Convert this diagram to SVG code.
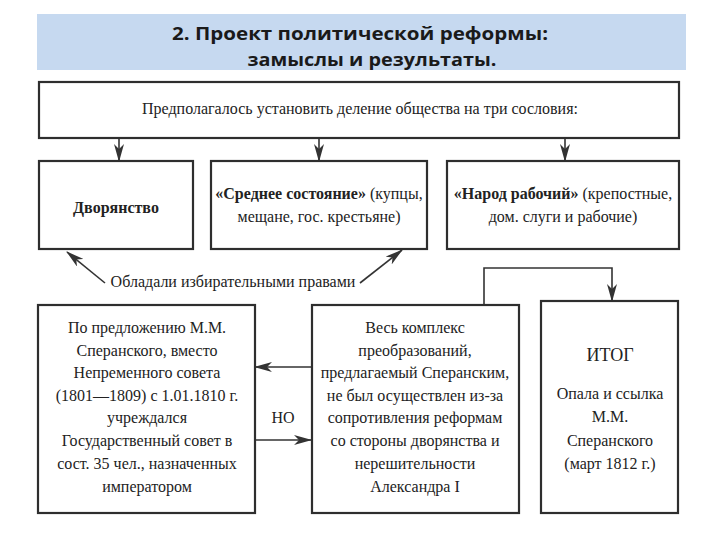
<svg xmlns="http://www.w3.org/2000/svg" width="720" height="540" viewBox="0 0 720 540">
<style>
.box{fill:#ffffff;stroke:#2e2e2e;stroke-width:2.2}
.t{font-family:"Liberation Serif","Times New Roman",serif;font-size:16px;fill:#222222;text-anchor:middle}
.b{font-weight:bold}
.ttl{font-family:"Open Sans","Noto Sans",sans-serif;font-weight:bold;font-size:18px;fill:#1a1a1a;text-anchor:middle}
.ln{fill:none;stroke:#333333;stroke-width:1.6}
</style>
<defs>
<marker id="ah" viewBox="0 0 18 10" refX="17" refY="5" markerWidth="18" markerHeight="10" markerUnits="userSpaceOnUse" orient="auto">
<path d="M0,0 L18,5 L0,10 L5,5 Z" fill="#333333"/>
</marker>
</defs>
<rect x="0" y="0" width="720" height="540" fill="#ffffff"/>
<g id="title">
<rect x="37" y="14" width="649" height="56" fill="#c6d9f0"/>
<text class="ttl" x="360" y="40" textLength="376" lengthAdjust="spacingAndGlyphs">2. Проект политической реформы:</text>
<text class="ttl" x="372" y="66" textLength="249" lengthAdjust="spacingAndGlyphs">замыслы и результаты.</text>
</g>
<g id="connectors">
<line class="ln" x1="119" y1="138" x2="119" y2="161" marker-end="url(#ah)"/>
<line class="ln" x1="319" y1="138" x2="319" y2="161" marker-end="url(#ah)"/>
<line class="ln" x1="565" y1="138" x2="565" y2="161" marker-end="url(#ah)"/>
<line class="ln" x1="105" y1="283" x2="67" y2="252" marker-end="url(#ah)"/>
<line class="ln" x1="360" y1="283" x2="402" y2="250" marker-end="url(#ah)"/>
<polyline class="ln" points="484,304 484,268 612,268 612,301" marker-end="url(#ah)"/>
<line class="ln" x1="311" y1="367" x2="255" y2="367" marker-end="url(#ah)"/>
<line class="ln" x1="255" y1="440" x2="311" y2="440" marker-end="url(#ah)"/>
<text class="t" x="283" y="423">НО</text>
<text class="t" x="233" y="287">Обладали избирательными правами</text>
</g>
<g id="top">
<rect class="box" x="39" y="82" width="640" height="56"/>
<text class="t" x="360" y="114">Предполагалось установить деление общества на три сословия:</text>
</g>
<g id="dvoryanstvo">
<rect class="box" x="39" y="161" width="154" height="88"/>
<text class="t b" x="116" y="213">Дворянство</text>
</g>
<g id="srednee">
<rect class="box" x="211" y="161" width="216" height="88"/>
<text class="t" x="319" y="199"><tspan class="b">«Среднее состояние»</tspan> (купцы,</text>
<text class="t" x="319" y="222">мещане, гос. крестьяне)</text>
</g>
<g id="narod">
<rect class="box" x="447" y="161" width="232" height="88"/>
<text class="t" x="563" y="199"><tspan class="b">«Народ рабочий»</tspan> (крепостные,</text>
<text class="t" x="563" y="222">дом. слуги и рабочие)</text>
</g>
<g id="gossovet">
<rect class="box" x="38" y="305" width="217" height="208"/>
<text class="t" x="147" y="333">По предложению М.М.</text>
<text class="t" x="147" y="356">Сперанского, вместо</text>
<text class="t" x="147" y="378">Непременного совета</text>
<text class="t" x="147" y="401">(1801—1809) с 1.01.1810 г.</text>
<text class="t" x="147" y="423">учреждался</text>
<text class="t" x="147" y="446">Государственный совет в</text>
<text class="t" x="147" y="469">сост. 35 чел., назначенных</text>
<text class="t" x="147" y="492">императором</text>
</g>
<g id="kompleks">
<rect class="box" x="312" y="305" width="207" height="208"/>
<text class="t" x="415" y="333">Весь комплекс</text>
<text class="t" x="415" y="356">преобразований,</text>
<text class="t" x="415" y="378">предлагаемый Сперанским,</text>
<text class="t" x="415" y="401">не был осуществлен из-за</text>
<text class="t" x="415" y="423">сопротивления реформам</text>
<text class="t" x="415" y="446">со стороны дворянства и</text>
<text class="t" x="415" y="469">нерешительности</text>
<text class="t" x="415" y="492">Александра I</text>
</g>
<g id="itog">
<rect class="box" x="541" y="301" width="137" height="212"/>
<text class="t" x="610" y="361" style="font-size:18px">ИТОГ</text>
<text class="t" x="610" y="399">Опала и ссылка</text>
<text class="t" x="610" y="422">М.М.</text>
<text class="t" x="610" y="446">Сперанского</text>
<text class="t" x="610" y="469">(март 1812 г.)</text>
</g>
</svg>
